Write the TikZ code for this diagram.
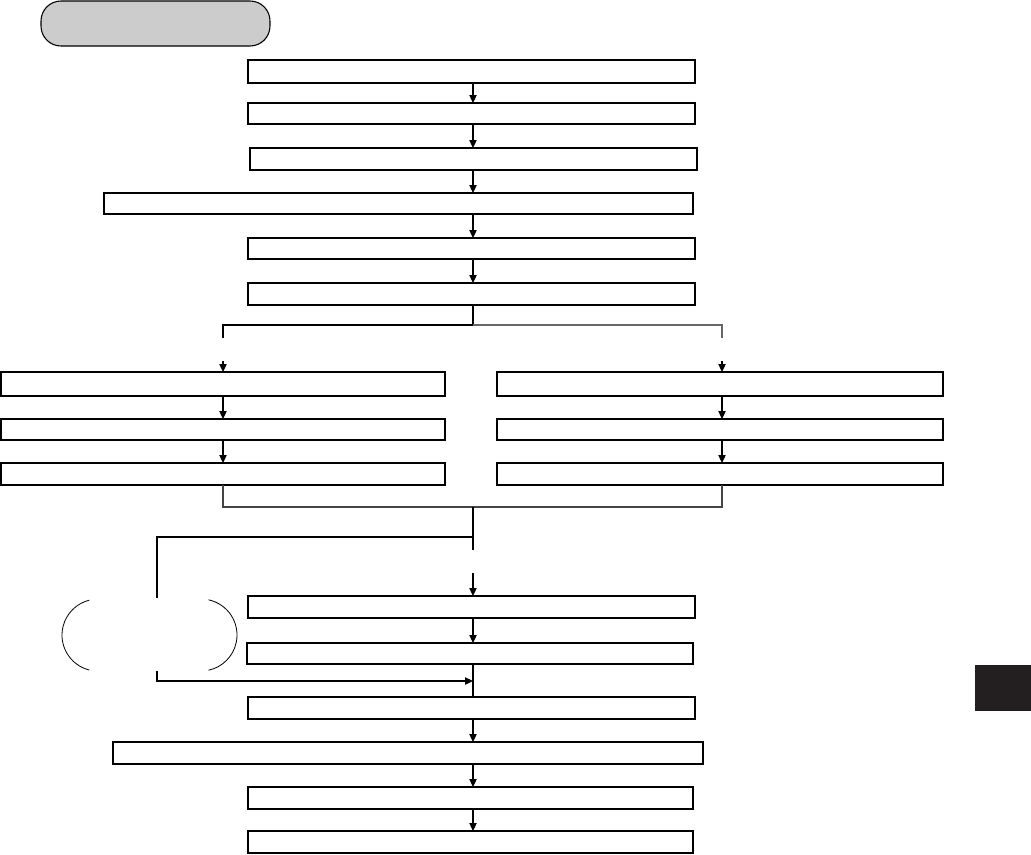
\documentclass[tikz,border=0pt]{standalone}
\usetikzlibrary{arrows.meta}
\definecolor{termgray}{HTML}{CCCCCC}
\definecolor{tabblack}{HTML}{231F20}
\definecolor{linegray}{HTML}{666666}
\definecolor{mergegray}{HTML}{444444}
\newcommand{\mkbox}[5]{\node[boxst, minimum width={(#4-#2)*0.75pt}, minimum height={(#5-#3)*0.75pt}] (#1) at ({(#2+#4)/2},{(#3+#5)/2}) {};}
\begin{document}
\begin{tikzpicture}[x=0.75pt,y=-0.75pt,
  boxst/.style={draw=black, line width=1pt, rectangle, inner sep=0pt, outer sep=0pt},
  termst/.style={draw=black, fill=termgray, line width=0.8pt, rounded corners=15pt, inner sep=0pt, outer sep=0pt},
  conn/.style={draw=black, line width=0.8pt},
  conng/.style={draw=linegray, line width=0.8pt},
  connm/.style={draw=mergegray, line width=0.9pt},
  arr/.style={conn, -{Triangle[length=6pt,width=5.5pt]}},
  arcst/.style={draw=black, line width=0.6pt}]
\useasboundingbox (0,0) rectangle (1031,854);
% terminator
\node[termst, minimum width={229*0.75pt}, minimum height={45*0.75pt}] (term) at (155.5,23.5) {};
% main boxes
\mkbox{a1}{248}{60}{695}{83}
\mkbox{a2}{248}{103}{695}{124}
\mkbox{a3}{250}{148}{697}{170}
\mkbox{a4}{104}{193}{693}{214}
\mkbox{a5}{248}{238}{695}{259}
\mkbox{a6}{248}{283}{695}{305}
% left column
\mkbox{l1}{1}{372}{445}{396}
\mkbox{l2}{1}{419}{445}{440}
\mkbox{l3}{1}{463}{445}{485}
% right column
\mkbox{r1}{497}{372}{943}{396}
\mkbox{r2}{497}{419}{943}{440}
\mkbox{r3}{497}{463}{943}{485}
% bottom boxes
\mkbox{c1}{248}{596}{695}{618}
\mkbox{c2}{247}{643}{693}{664}
\mkbox{c3}{248}{697}{695}{719}
\mkbox{c4}{113}{742}{703}{764}
\mkbox{c5}{248}{787}{693}{809}
\mkbox{c6}{248}{831}{693}{853}
% reference coordinates
\coordinate (M) at (473,0);
\coordinate (L) at (223,0);
\coordinate (R) at (722,0);
\coordinate (jb) at (473,325);
\coordinate (jL) at (223,325);
\coordinate (jL2) at (223,338);
\coordinate (aL) at (223,361);
\coordinate (jR) at (722,325);
\coordinate (jR2) at (722,338);
\coordinate (aR) at (722,361);
\coordinate (mL) at (223,507);
\coordinate (mR) at (722,507);
\coordinate (mc) at (473,507);
\coordinate (mc2) at (473,550);
\coordinate (ac) at (473,573);
\coordinate (lp1) at (472,537);
\coordinate (lp2) at (157,537);
\coordinate (lp3) at (157,598);
\coordinate (lp4) at (157,671);
\coordinate (lp5) at (157,681);
\coordinate (lp6) at (473,681);
\coordinate (lc1) at (89.3,670);
\coordinate (rc1) at (208.5,599.8);
% main chain
\draw[arr] (a1.south -| M) -- (a2.north -| M);
\draw[arr] (a2.south -| M) -- (a3.north -| M);
\draw[arr] (a3.south -| M) -- (a4.north -| M);
\draw[arr] (a4.south -| M) -- (a5.north -| M);
\draw[arr] (a5.south -| M) -- (a6.north -| M);
% branch
\draw[conn] (a6.south -| M) -- (jb);
\draw[conn] (jL2) -- (jL) -- (jb);
\draw[conng] (jb) -- (jR) -- (jR2);
\draw[arr] (aL) -- (l1.north -| L);
\draw[arr] (aR) -- (r1.north -| R);
\draw[arr] (l1.south -| L) -- (l2.north -| L);
\draw[arr] (l2.south -| L) -- (l3.north -| L);
\draw[arr] (r1.south -| R) -- (r2.north -| R);
\draw[arr] (r2.south -| R) -- (r3.north -| R);
% merge
\draw[connm] (l3.south -| L) -- (mL) -- (mR) -- (r3.south -| R);
\draw[conn] (mc) -- (mc2);
\draw[arr] (ac) -- (c1.north -| M);
% lower chain
\draw[arr] (c1.south -| M) -- (c2.north -| M);
\draw[conn] (c2.south -| M) -- (c3.north -| M);
\draw[arr] (c3.south -| M) -- (c4.north -| M);
\draw[arr] (c4.south -| M) -- (c5.north -| M);
\draw[arr] (c5.south -| M) -- (c6.north -| M);
% loop
\draw[conn] (lp1) -- (lp2) -- (lp3);
\draw[arr] (lp4) -- (lp5) -- (lp6);
\draw[arcst] (lc1) arc[start angle=104, end angle=256, radius=36];
\draw[arcst] (rc1) arc[start angle=-78, end angle=78, radius=36];
% tab
\fill[tabblack] (975,665) rectangle (1031,711);
\end{tikzpicture}
\end{document}
